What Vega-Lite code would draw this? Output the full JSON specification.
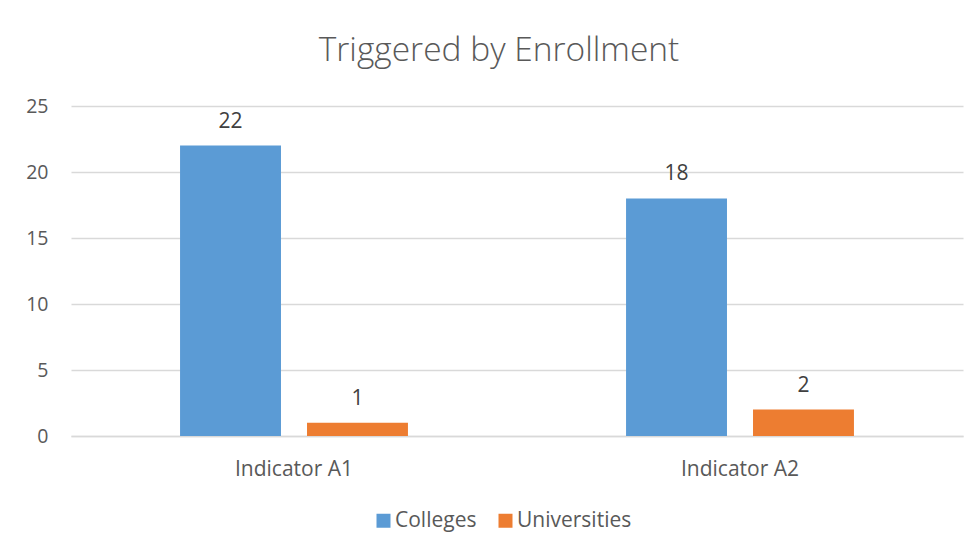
{
  "$schema": "https://vega.github.io/schema/vega-lite/v6.json",
  "width": 892,
  "height": 330,
  "autosize": {"type": "none"},
  "padding": {"left": 71, "top": 106, "right": 17, "bottom": 120},
  "background": "white",
  "config": {
    "font": "Open Sans",
    "view": {"stroke": null}
  },
  "title": {
    "text": "Triggered by Enrollment",
    "fontSize": 33.5,
    "font": "Open Sans",
    "fontWeight": 300,
    "color": "#595959",
    "anchor": "middle",
    "dx": -18,
    "offset": 28
  },
  "data": {
    "values": [
      {"indicator": "Indicator A1", "type": "Colleges", "count": 22},
      {"indicator": "Indicator A1", "type": "Universities", "count": 1},
      {"indicator": "Indicator A2", "type": "Colleges", "count": 18},
      {"indicator": "Indicator A2", "type": "Universities", "count": 2}
    ]
  },
  "encoding": {
    "x": {
      "field": "indicator",
      "type": "nominal",
      "scale": {"paddingInner": 0.489, "paddingOuter": 0.2445},
      "axis": {
        "title": null,
        "labelAngle": 0,
        "labelFontSize": 21,
        "labelColor": "#595959",
        "labelBaseline": "alphabetic",
        "labelPadding": 39,
        "ticks": false,
        "domainColor": "#d9d9d9",
        "domainWidth": 1.3
      }
    },
    "xOffset": {
      "field": "type",
      "type": "nominal",
      "scale": {"paddingInner": 0.205, "paddingOuter": 0}
    },
    "y": {
      "field": "count",
      "type": "quantitative",
      "scale": {"domain": [0, 25]},
      "axis": {
        "title": null,
        "values": [0, 5, 10, 15, 20, 25],
        "labelFontSize": 19.5,
        "labelColor": "#595959",
        "labelPadding": 23,
        "ticks": false,
        "domain": false,
        "gridColor": "#d9d9d9",
        "gridWidth": 1.3
      }
    }
  },
  "layer": [
    {
      "mark": {"type": "bar"},
      "encoding": {
        "color": {
          "field": "type",
          "type": "nominal",
          "scale": {"domain": ["Colleges", "Universities"], "range": ["#5B9BD5", "#ED7D31"]},
          "legend": {
            "title": null,
            "orient": "none",
            "direction": "horizontal",
            "legendX": 302,
            "legendY": 404,
            "symbolType": "square",
            "symbolSize": 196,
            "symbolStrokeWidth": 0,
            "labelFontSize": 21,
            "labelColor": "#595959",
            "labelOffset": 1,
            "columnPadding": 18
          }
        }
      }
    },
    {
      "mark": {"type": "text", "fontSize": 21, "color": "#404040", "baseline": "alphabetic", "dy": -18},
      "encoding": {
        "text": {"field": "count", "type": "quantitative"}
      }
    }
  ]
}
